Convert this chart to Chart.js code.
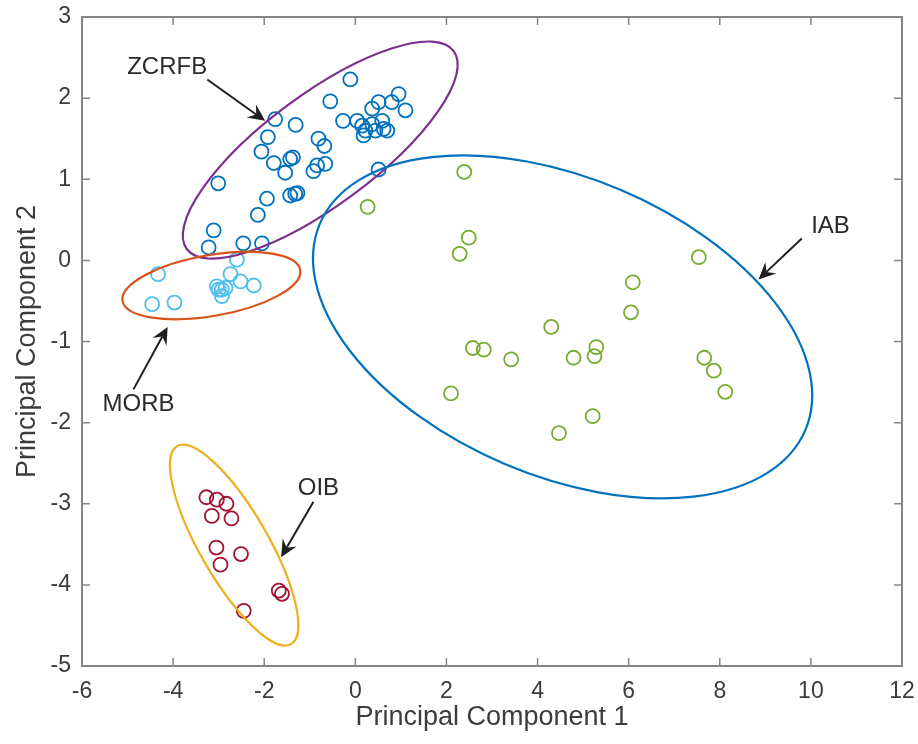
<!DOCTYPE html>
<html>
<head>
<meta charset="utf-8">
<title>PCA scores</title>
<script src="https://cdn.jsdelivr.net/npm/chart.js@4/dist/chart.umd.min.js"></script>
<style>
    html, body { margin: 0; padding: 0; background: #fff; }
    #wrap { width: 918px; height: 744px; }
</style>
</head>
<body>
<div id="wrap"><canvas id="pca" width="918" height="744"></canvas></div>
<script>
'use strict';

// PC1 / PC2 scores per group
const zcrfbPoints = [
    [-0.11, 2.23], [-0.55, 1.96], [-1.76, 1.74], [-1.31, 1.67], [-1.92, 1.52],
    [-2.06, 1.34], [-1.79, 1.20], [-1.54, 1.08], [-1.43, 1.25], [-1.37, 1.27],
    [-0.81, 1.50], [-0.68, 1.41], [-0.84, 1.17], [-0.66, 1.19], [-0.92, 1.10],
    [-0.27, 1.72], [0.04, 1.72], [0.15, 1.66], [0.22, 1.60], [0.37, 1.68],
    [0.44, 1.60], [0.59, 1.72], [0.62, 1.62], [0.70, 1.60], [0.18, 1.54],
    [0.37, 1.87], [0.51, 1.95], [0.80, 1.95], [0.95, 2.05], [1.10, 1.85],
    [0.51, 1.12], [-3.01, 0.95], [-1.94, 0.76], [-1.43, 0.80], [-1.32, 0.82],
    [-1.27, 0.83], [-2.14, 0.56], [-3.11, 0.37], [-3.22, 0.16], [-2.46, 0.21],
    [-2.05, 0.21]
];
const morbPoints = [
    [-4.33, -0.17], [-4.46, -0.54], [-3.97, -0.52], [-2.60, 0.01], [-2.74, -0.17],
    [-2.52, -0.26], [-2.23, -0.31], [-3.04, -0.32], [-2.93, -0.36], [-2.85, -0.34],
    [-2.93, -0.44], [-3.00, -0.36]
];
const oibPoints = [
    [-3.27, -2.92], [-3.04, -2.95], [-2.83, -3.00], [-3.15, -3.15], [-2.72, -3.18],
    [-3.05, -3.54], [-2.96, -3.75], [-2.51, -3.62], [-1.68, -4.07], [-1.61, -4.11],
    [-2.45, -4.32]
];
const iabPoints = [
    [2.39, 1.09], [0.27, 0.66], [2.49, 0.28], [2.29, 0.08], [4.30, -0.82],
    [2.58, -1.08], [2.82, -1.10], [3.42, -1.22], [4.79, -1.20], [5.29, -1.07],
    [5.25, -1.18], [2.10, -1.64], [5.21, -1.92], [4.47, -2.13], [7.54, 0.04],
    [6.09, -0.27], [6.05, -0.64], [7.66, -1.20], [7.87, -1.36], [8.12, -1.62]
];

// group ellipses: centre plus two conjugate semi-axis vectors (data units)
const zcrfbEllipse = { center: [-0.77, 1.36], major: [2.93, 1.22], minor: [0.72, -0.55] };
const morbEllipse  = { center: [-3.16, -0.31], major: [1.95, 0.19], minor: [0.11, -0.37] };
const oibEllipse   = { center: [-2.66, -3.51], major: [1.25, -1.22], minor: [0.65, 0.21] };
const iabEllipse   = { center: [4.55, -0.82], major: [5.33, -1.27], minor: [-1.27, -1.69] };

// group labels with arrows (text position, arrow tail, arrow tip)
const groupLabels = [
    { text: 'ZCRFB', at: [-4.13, 2.38], from: [-3.25, 2.23], to: [-1.98, 1.72] },
    { text: 'MORB', at: [-4.76, -1.78], from: [-4.87, -1.59], to: [-4.12, -0.82] },
    { text: 'OIB', at: [-0.81, -2.81], from: [-0.92, -2.975], to: [-1.63, -3.66] },
    { text: 'IAB', at: [10.43, 0.42], from: [9.80, 0.27], to: [8.85, -0.235] }
];

const xTicks = [-6, -4, -2, 0, 2, 4, 6, 8, 10, 12];
const yTicks = [-5, -4, -3, -2, -1, 0, 1, 2, 3];

const FONT = '"Liberation Sans", Arial, Helvetica, sans-serif';
const AXIS_COLOR = '#858585';
const TEXT_COLOR = '#3c3c3c';

const toXY = pts => pts.map(p => ({ x: p[0], y: p[1] }));

function ring(label, pts, color) {
    return {
        label: label,
        data: toXY(pts),
        borderColor: color,
        backgroundColor: 'transparent',
        pointStyle: 'circle',
        pointRadius: 7,
        pointBorderWidth: 1.8,
        showLine: false
    };
}

// box outline and inward tick marks on all four sides
const boxPlugin = {
    id: 'box',
    afterDraw(chart) {
        const { ctx, chartArea: a, scales: { x, y } } = chart;
        const len = 8;
        ctx.save();
        ctx.strokeStyle = AXIS_COLOR;
        ctx.lineWidth = 2;
        ctx.strokeRect(a.left, a.top, a.right - a.left, a.bottom - a.top);
        ctx.lineWidth = 1.5;
        ctx.beginPath();
        xTicks.forEach(v => {
            const px = x.getPixelForValue(v);
            ctx.moveTo(px, a.bottom); ctx.lineTo(px, a.bottom - len);
            ctx.moveTo(px, a.top); ctx.lineTo(px, a.top + len);
        });
        yTicks.forEach(v => {
            const py = y.getPixelForValue(v);
            ctx.moveTo(a.left, py); ctx.lineTo(a.left + len, py);
            ctx.moveTo(a.right, py); ctx.lineTo(a.right - len, py);
        });
        ctx.stroke();
        ctx.restore();
    }
};

// ellipses and arrow labels, placed through the chart scales
const overlayPlugin = {
    id: 'overlay',
    afterDatasetsDraw(chart) {
        const { ctx, scales: { x, y } } = chart;
        const px = v => x.getPixelForValue(v);
        const py = v => y.getPixelForValue(v);

        const ellipses = [
            [zcrfbEllipse, '#7E2F8E'],
            [morbEllipse, '#D95319'],
            [oibEllipse, '#EDB120'],
            [iabEllipse, '#0072BD']
        ];
        ctx.save();
        ellipses.forEach(([e, color]) => {
            const cx = px(e.center[0]), cy = py(e.center[1]);
            const ux = px(e.center[0] + e.major[0]) - cx, uy = py(e.center[1] + e.major[1]) - cy;
            const vx = px(e.center[0] + e.minor[0]) - cx, vy = py(e.center[1] + e.minor[1]) - cy;
            ctx.save();
            ctx.beginPath();
            ctx.transform(ux, uy, vx, vy, cx, cy);
            ctx.arc(0, 0, 1, 0, Math.PI * 2);
            ctx.restore();
            ctx.strokeStyle = color;
            ctx.lineWidth = 2.2;
            ctx.stroke();
        });

        groupLabels.forEach(g => {
            const x0 = px(g.from[0]), y0 = py(g.from[1]);
            const x1 = px(g.to[0]), y1 = py(g.to[1]);
            const ang = Math.atan2(y1 - y0, x1 - x0);
            const headLen = 17, headW = 8, notch = 6;

            ctx.strokeStyle = '#1e1e1e';
            ctx.fillStyle = '#1e1e1e';
            ctx.lineWidth = 2;
            ctx.beginPath();
            ctx.moveTo(x0, y0);
            ctx.lineTo(x1 - Math.cos(ang) * (headLen - notch), y1 - Math.sin(ang) * (headLen - notch));
            ctx.stroke();

            ctx.save();
            ctx.translate(x1, y1);
            ctx.rotate(ang);
            ctx.beginPath();
            ctx.moveTo(0, 0);
            ctx.lineTo(-headLen, -headW);
            ctx.lineTo(-headLen + notch, 0);
            ctx.lineTo(-headLen, headW);
            ctx.closePath();
            ctx.fill();
            ctx.restore();

            ctx.font = '24px ' + FONT;
            ctx.textAlign = 'center';
            ctx.textBaseline = 'middle';
            ctx.fillStyle = '#2a2a2a';
            ctx.fillText(g.text, px(g.at[0]), py(g.at[1]));
        });
        ctx.restore();
    }
};

new Chart(document.getElementById('pca'), {
    type: 'scatter',
    data: {
        datasets: [
            ring('ZCRFB', zcrfbPoints, '#0072BD'),
            ring('MORB', morbPoints, '#4DBEEE'),
            ring('OIB', oibPoints, '#A2142F'),
            ring('IAB', iabPoints, '#77AC30')
        ]
    },
    options: {
        responsive: false,
        animation: false,
        events: [],
        layout: { padding: { top: 17, right: 16, left: 0, bottom: 0 } },
        plugins: {
            legend: { display: false },
            tooltip: { enabled: false }
        },
        scales: {
            x: {
                type: 'linear',
                min: -6,
                max: 12,
                afterBuildTicks: s => { s.ticks = xTicks.map(v => ({ value: v })); },
                afterFit: s => {
                    s.height = 78;
                    s.paddingLeft = 0;
                    s.paddingRight = 0;
                },
                grid: { display: false, drawTicks: false },
                border: { display: false },
                ticks: {
                    padding: 12,
                    color: TEXT_COLOR,
                    font: { family: FONT, size: 23 }
                },
                title: {
                    display: true,
                    text: 'Principal Component 1',
                    color: TEXT_COLOR,
                    font: { family: FONT, size: 27 },
                    padding: { top: 0, bottom: 10 }
                }
            },
            y: {
                type: 'linear',
                min: -5,
                max: 3,
                afterBuildTicks: s => { s.ticks = yTicks.map(v => ({ value: v })); },
                afterFit: s => {
                    s.width = 82;
                    s.paddingTop = 0;
                    s.paddingBottom = 0;
                },
                grid: { display: false, drawTicks: false },
                border: { display: false },
                ticks: {
                    padding: 11,
                    color: TEXT_COLOR,
                    font: { family: FONT, size: 23 }
                },
                title: {
                    display: true,
                    text: 'Principal Component 2',
                    color: TEXT_COLOR,
                    font: { family: FONT, size: 27 },
                    padding: { top: 11, bottom: 0 }
                }
            }
        }
    },
    plugins: [boxPlugin, overlayPlugin]
});
</script>
</body>
</html>
